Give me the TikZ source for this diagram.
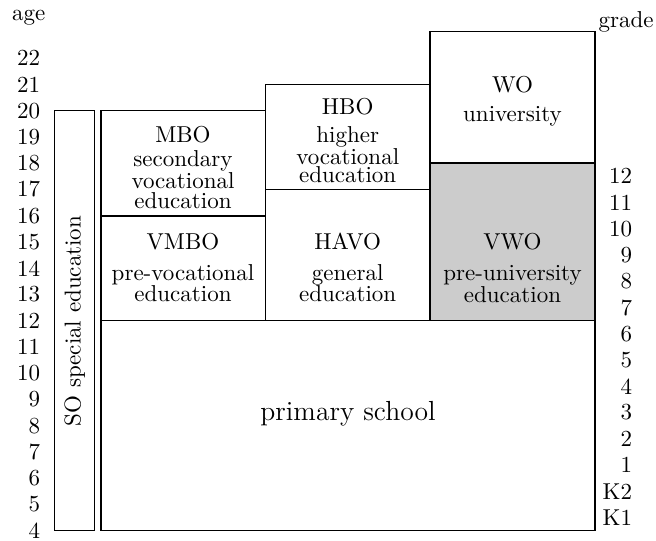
\documentclass[tikz,border=0pt]{standalone}
\usepackage{tikz}
\tikzset{
  blk/.style={draw=black, line width=0.45pt},
  shaded/.style={blk, fill=black!20},
  txt/.style={inner sep=0pt, anchor=base},
  agelbl/.style={inner sep=0pt, anchor=east},
  bigtxt/.style={txt, font=\large},
}
\newcommand{\yage}[1]{530.7-26.25*(#1-4)}
\begin{document}
\begin{tikzpicture}[x=0.43478pt, y=-0.43478pt]
\useasboundingbox (0,0) rectangle (656,540);
% headings
\node[txt] (agehead) at (28.7,20) {age};
\node[txt] (gradehead) at (626,27) {grade};
% age labels
\foreach \a in {4,...,22} {
  \node[agelbl] (age\a) at (40.5,{\yage{\a}}) {\a};
}
% grade labels
\foreach \g/\a in {K1/4.5,K2/5.5,1/6.5,2/7.5,3/8.5,4/9.5,5/10.5,6/11.5,7/12.5,8/13.5,9/14.5,10/15.5,11/16.5,12/17.5} {
  \node[agelbl] (grade\g) at (632.5,{\yage{\a}}) {\g};
}
% boxes
\draw[blk] (54.3,110.7) rectangle (94.3,530.7);
\draw[blk] (101,320.7) rectangle (595,530.7);
\draw[blk] (101,216) rectangle (265.5,320.7);
\draw[blk] (101,110.7) rectangle (265.5,216);
\draw[blk] (265.5,189.2) rectangle (430,320.7);
\draw[blk] (265.5,84.4) rectangle (430,189.2);
\draw[shaded] (430,163) rectangle (595,320.7);
\draw[blk] (430,31.9) rectangle (595,163);
% SO
\node[rotate=90, inner sep=0pt] (so) at (74.8,321) {SO special education};
% primary
\node[bigtxt] (primary) at (348,420) {primary school};
% MBO
\node[txt] (mbo) at (183,142.7) {MBO};
\node[txt] (mbo1) at (183,166.7) {secondary};
\node[txt] (mbo2) at (183,188.3) {vocational};
\node[txt] (mbo3) at (183,208.5) {education};
% VMBO
\node[txt] (vmbo) at (183,249) {VMBO};
\node[txt] (vmbo1) at (183,280) {pre-vocational};
\node[txt] (vmbo2) at (183,301.7) {education};
% HBO
\node[txt] (hbo) at (347.7,114) {HBO};
\node[txt] (hbo1) at (347.7,142.7) {higher};
\node[txt] (hbo2) at (347.7,164) {vocational};
\node[txt] (hbo3) at (347.7,182.7) {education};
% HAVO
\node[txt] (havo) at (347.7,249) {HAVO};
\node[txt] (havo1) at (347.7,280) {general};
\node[txt] (havo2) at (347.7,301.7) {education};
% WO
\node[txt] (wo) at (512.5,92.7) {WO};
\node[txt] (wo1) at (512.5,121.7) {university};
% VWO
\node[txt] (vwo) at (512.5,249.5) {VWO};
\node[txt] (vwo1) at (512.5,280) {pre-university};
\node[txt] (vwo2) at (512.5,302.3) {education};
\end{tikzpicture}
\end{document}
